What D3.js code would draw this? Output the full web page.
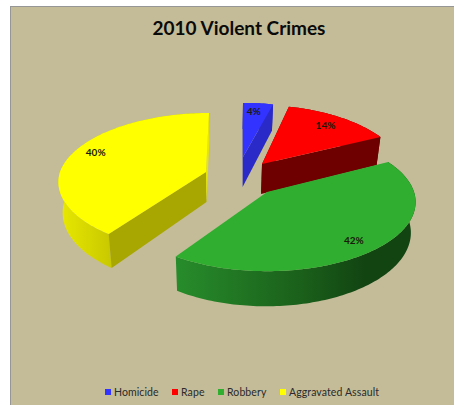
<!DOCTYPE html>
<html>
<head>
<meta charset="utf-8">
<style>
html,body{margin:0;padding:0;background:#fff;}
svg{display:block;}
</style>
<script src="https://cdn.jsdelivr.net/npm/d3@7"></script>
</head>
<body>
<svg id="chart" width="454" height="405"></svg>
<script>
// Chart content
const chartTitle = "2010 Violent Crimes";
const categories = ["Homicide", "Rape", "Robbery", "Aggravated Assault"];
const shares = [4, 14, 42, 40];

// Slice appearance and placement of each exploded wedge
const topColors = ["#3333ff", "#ff0000", "#2fae2f", "#ffff00"];
const faceColors = ["#2a2ac8", "#6e0000", "#1a5e1a", "#a8a600"];
const centersX = [243, 262, 267, 206];
const centersY = [157, 164, 192, 172];
const radiiX = [138, 141, 147, 146];
const radiiY = [62, 67.6, 67.6, 67.6];
const turnDegrees = [0, 0, -3, 0];
const backLean = [0, -4, 0, 3];
const labelRadii = [0.68, 0.8, 0.84, 0.83];
const labelShiftY = [-7, 0, 0, -3];

// Perspective settings of the tilted pie
const recede = 0.146;
const depth = 30;
const vanishX = 227;
const baseShrink = 0.025;

const width = 454, height = 405;
const svg = d3.select("#chart");
const defs = svg.append("defs");

function addWallGradient(id, stops, x1, x2) {
  const g = defs.append("linearGradient").attr("id", id)
    .attr("gradientUnits", "userSpaceOnUse")
    .attr("x1", x1).attr("x2", x2).attr("y1", 0).attr("y2", 0);
  stops.forEach(([o, c]) => g.append("stop").attr("offset", o).attr("stop-color", c));
  return `url(#${id})`;
}
const wallFills = [
  faceColors[0],
  faceColors[1],
  addWallGradient("wallGreen", [[0, "#278c2b"], [0.55, "#1a5e1a"], [0.8, "#124412"], [1, "#124412"]], 176, 411),
  addWallGradient("wallYellow", [[0, "#e8e800"], [1, "#c6c600"]], 60, 115)
];

// Page and chart frame
svg.append("rect").attr("width", width).attr("height", height).attr("fill", "#ffffff");
svg.append("rect").attr("x", 10.5).attr("y", 6.5).attr("width", width).attr("height", height)
  .attr("fill", "#c4bc98").attr("stroke", "#969696").attr("stroke-width", 1);

svg.append("text").attr("x", 239).attr("y", 35).attr("text-anchor", "middle")
  .attr("font-family", "Lato, 'Open Sans', sans-serif").attr("font-weight", 700)
  .attr("font-size", 19).attr("fill", "#0a0a0a").text(chartTitle);

const arcs = d3.pie().sort(null).value(d => d)(shares);

// Map a pie angle and radius to the screen; height 0 is the top face, 1 the base
function project(i, angle, r, h) {
  const u = Math.sin(angle) * r, v = Math.cos(angle) * r;
  const s = 1 / (1 + recede * v);
  const x = centersX[i] + radiiX[i] * u * s + backLean[i] * Math.max(v, 0);
  const y = centersY[i] - radiiY[i] * v * s + h * depth * s;
  return [vanishX + (x - vanishX) * (1 - baseShrink * h), y];
}
const line = d3.line();
function rimPoints(i, a0, a1, h) {
  const n = Math.max(2, Math.ceil((a1 - a0) / 0.02));
  return d3.range(n + 1).map(k => project(i, a0 + (a1 - a0) * k / n, 1, h));
}
const closed = pts => line(pts) + "Z";

const drawOrder = [0, 1, 3, 2];
const slices = svg.append("g").attr("class", "slices");
drawOrder.forEach(i => {
  const turn = turnDegrees[i] * Math.PI / 180;
  const a0 = arcs[i].startAngle + turn, a1 = arcs[i].endAngle + turn;
  const g = slices.append("g");
  // The outer wall, then the two cut faces, then the top face
  g.append("path")
    .attr("d", closed([...rimPoints(i, a0, a1, 0), ...rimPoints(i, a0, a1, 1).reverse()]))
    .attr("fill", wallFills[i]);
  // Robbery's faces sit behind its own wall and top, so only the visible cuts are painted
  if (i !== 2) {
    [a0, a1].forEach(a => {
      g.append("path")
        .attr("d", closed([project(i, a, 0, 0), project(i, a, 1, 0), project(i, a, 1, 1), project(i, a, 0, 1)]))
        .attr("fill", i === 3 && a === a1 ? "#e6e600" : faceColors[i]);
    });
  }
  g.append("path")
    .attr("d", closed([project(i, 0, 0, 0), ...rimPoints(i, a0, a1, 0)]))
    .attr("fill", topColors[i]);
});

// Percentage labels on the top faces
arcs.forEach((d, i) => {
  const [x, y] = project(i, (d.startAngle + d.endAngle) / 2, labelRadii[i], 0);
  svg.append("text").attr("x", x).attr("y", y + 3.5 + labelShiftY[i]).attr("text-anchor", "middle")
    .attr("font-family", "Lato, 'Open Sans', sans-serif").attr("font-weight", 700)
    .attr("font-size", 10).attr("fill", "#1a1a0a").text(d.value + "%");
});

// Legend along the bottom edge
const legendSwatchX = [105, 172, 218, 280];
const legend = svg.append("g").attr("class", "legend");
categories.forEach((name, i) => {
  legend.append("rect").attr("x", legendSwatchX[i]).attr("y", 389)
    .attr("width", 6).attr("height", 6).attr("fill", topColors[i]);
  legend.append("text").attr("x", legendSwatchX[i] + 9).attr("y", 396)
    .attr("font-family", "Lato, 'Open Sans', sans-serif").attr("font-size", 10.5)
    .attr("letter-spacing", 0.1).attr("fill", "#2a2a2a").text(name);
});
</script>
</body>
</html>
